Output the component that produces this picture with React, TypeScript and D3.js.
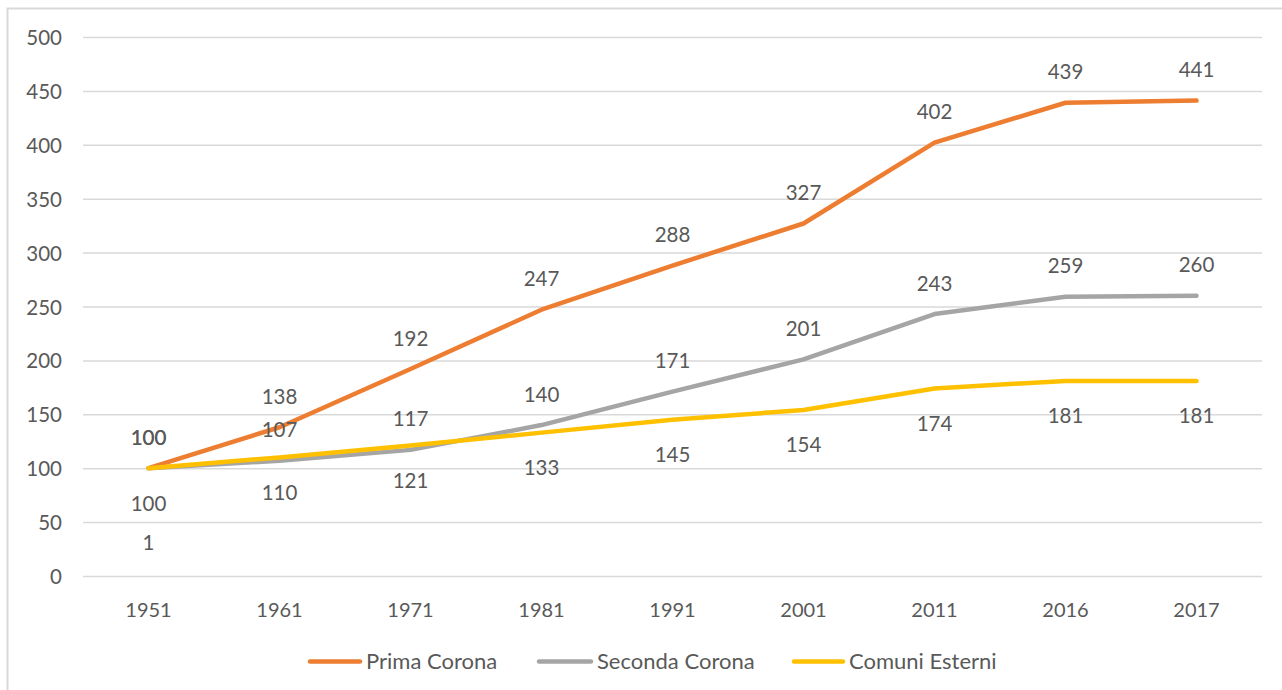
import React, { useRef, useEffect } from 'react'
import * as d3 from 'd3'

// values
const years = ['1951', '1961', '1971', '1981', '1991', '2001', '2011', '2016', '2017']
const primaCorona = [100, 138, 192, 247, 288, 327, 402, 439, 441]
const secondaCorona = [100, 107, 117, 140, 171, 201, 243, 259, 260]
const comuniEsterni = [100, 110, 121, 133, 145, 154, 174, 181, 181]
const yTicks = [0, 50, 100, 150, 200, 250, 300, 350, 400, 450, 500]
// stray label in the original chart, sitting under the first point
const strayLabels = [{ year: '1951', value: 100, text: '1' }]

const seriesList = [
    { name: 'Prima Corona', values: primaCorona, color: '#ED7D31', labelPos: 'above' },
    { name: 'Seconda Corona', values: secondaCorona, color: '#A5A5A5', labelPos: 'above' },
    { name: 'Comuni Esterni', values: comuniEsterni, color: '#FFC000', labelPos: 'below' },
]

const width = 1282
const height = 690
const fontFamily = 'Lato, "Open Sans", sans-serif'
const textColor = '#595959'

export default function App() {
    const svgRef = useRef<SVGSVGElement>(null)

    useEffect(() => {
        const svg = d3.select(svgRef.current)
        svg.selectAll('*').remove()

        // plot area
        const left = 83
        const right = 1262
        const top = 37
        const bottom = 576

        const xScale = d3.scaleBand().domain(years).range([left, right])
        const yScale = d3.scaleLinear().domain([0, 500]).range([bottom, top])
        const xc = (y: string) => (xScale(y) as number) + xScale.bandwidth() / 2

        // chart frame (only top and left visible in the crop)
        svg.append('rect')
            .attr('x', 7.5).attr('y', 8.5)
            .attr('width', 1400).attr('height', 800)
            .attr('fill', 'white')
            .attr('stroke', '#d9d9d9')
            .attr('stroke-width', 2)

        // gridlines + y labels
        const yAxis = svg.append('g')
            .attr('transform', `translate(${left},0)`)
            .call(d3.axisLeft(yScale).tickValues(yTicks).tickSize(-(right - left)).tickPadding(21))
        yAxis.select('.domain').remove()
        yAxis.selectAll('line').attr('stroke', '#d9d9d9').attr('stroke-width', 1.5)
        yAxis.selectAll('text')
            .attr('fill', textColor)
            .attr('dy', null)
            .attr('y', 7.5)
            .style('font-family', fontFamily)
            .style('font-size', '20.5px')

        // x labels
        const xAxis = svg.append('g')
            .attr('transform', `translate(0,${bottom})`)
            .call(d3.axisBottom(xScale).tickSize(0))
        xAxis.select('.domain').remove()
        xAxis.selectAll('text')
            .attr('fill', textColor)
            .attr('dy', null)
            .attr('y', 41)
            .style('font-family', fontFamily)
            .style('font-size', '20px')

        const line = d3.line<number>()
            .x((_, i) => xc(years[i]))
            .y(d => yScale(d))

        seriesList.forEach(s => {
            svg.append('path')
                .datum(s.values)
                .attr('d', line)
                .attr('fill', 'none')
                .attr('stroke', s.color)
                .attr('stroke-width', 4.5)
                .attr('stroke-linecap', 'round')
                .attr('stroke-linejoin', 'round')
        })

        // data labels
        seriesList.forEach(s => {
            svg.append('g')
                .selectAll('text')
                .data(s.values)
                .join('text')
                    .attr('x', (_, i) => xc(years[i]))
                    .attr('y', d => yScale(d) + (s.labelPos === 'above' ? -23.5 : 42.5))
                    .attr('text-anchor', 'middle')
                    .attr('fill', textColor)
                    .style('font-family', fontFamily)
                    .style('font-size', '20.5px')
                    .text(d => d)
        })

        svg.append('g')
            .selectAll('text')
            .data(strayLabels)
            .join('text')
                .attr('x', d => xc(d.year))
                .attr('y', d => yScale(d.value) + 82)
                .attr('text-anchor', 'middle')
                .attr('fill', textColor)
                .style('font-family', fontFamily)
                .style('font-size', '20.5px')
                .text(d => d.text)

        // legend
        const legendItems = [
            { x1: 308, x2: 362, s: seriesList[0] },
            { x1: 537, x2: 593, s: seriesList[1] },
            { x1: 792, x2: 845, s: seriesList[2] },
        ]
        const legendY = 661.5
        const lg = svg.append('g')
        legendItems.forEach(item => {
            lg.append('line')
                .attr('x1', item.x1 + 2).attr('x2', item.x2 - 2)
                .attr('y1', legendY).attr('y2', legendY)
                .attr('stroke', item.s.color)
                .attr('stroke-width', 4.5)
                .attr('stroke-linecap', 'round')
            lg.append('text')
                .attr('x', item.x2 + 4)
                .attr('y', 669)
                .attr('fill', textColor)
                .style('font-family', fontFamily)
                .style('font-size', '22px')
                .text(item.s.name)
        })
    }, [])

    return (
        <svg ref={svgRef} width={width} height={height}
            style={{ position: 'absolute', left: 0, top: 0, background: 'white' }} />
    )
}
